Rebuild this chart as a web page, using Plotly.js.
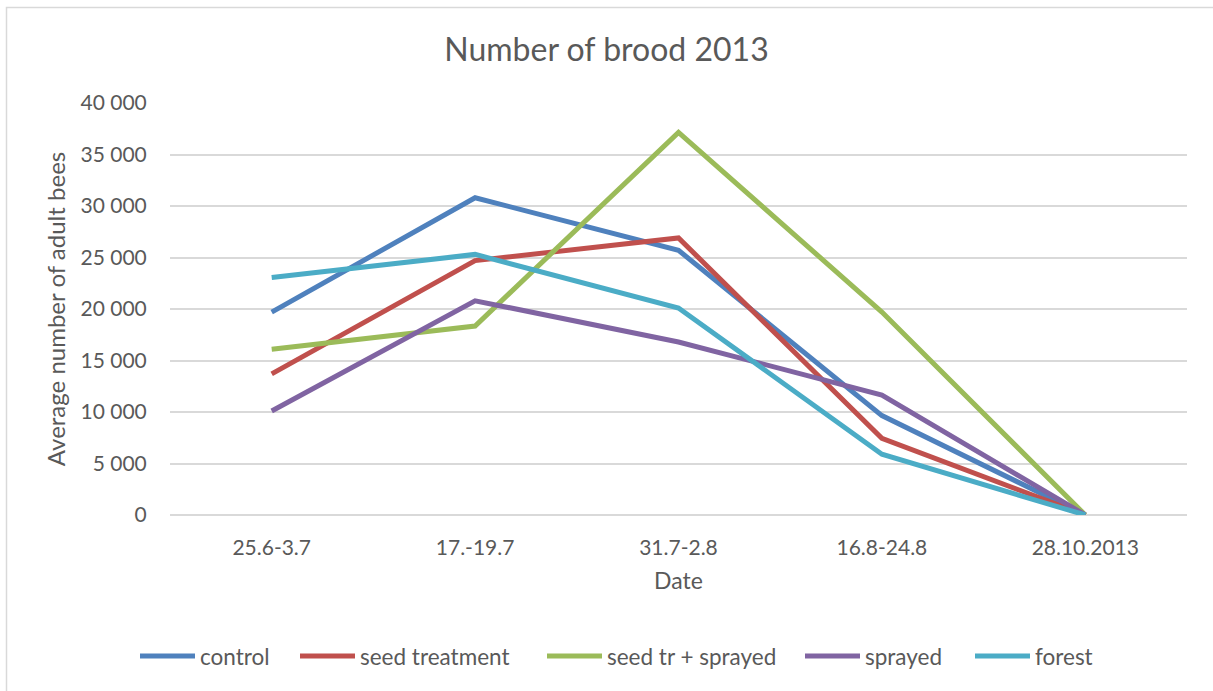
<!DOCTYPE html>
<html>
<head>
<meta charset="utf-8">
<script src="https://cdn.plot.ly/plotly-3.0.1.min.js"></script>
<style>
  html, body { margin: 0; padding: 0; background: #fff; }
  #chart { width: 1213px; height: 691px; }
</style>
</head>
<body>
<div id="chart"></div>
<script>
// Sampling dates (categories)
const dates = ["25.6-3.7", "17.-19.7", "31.7-2.8", "16.8-24.8", "28.10.2013"];

// Average number of adult bees per group
const control       = [19700, 30800, 25700, 9650, 0];
const seedTreatment = [13700, 24700, 26900, 7450, 0];
const seedTrSprayed = [16100, 18350, 37150, 19700, 0];
const sprayed       = [10100, 20800, 16800, 11650, 0];
const forest        = [23050, 25300, 20100, 5900, 0];

const seriesNames  = ["control", "seed treatment", "seed tr + sprayed", "sprayed", "forest"];
const seriesValues = [control, seedTreatment, seedTrSprayed, sprayed, forest];
const seriesColors = ["#4F81BD", "#C0504D", "#9BBB59", "#8064A2", "#4BACC6"];

const textColor = "#595959";
const fontFamily = "Lato, 'Open Sans', sans-serif";

// Plot-area geometry in pixels (used to convert legend placement to paper units)
const W = 1213, H = 691;
const M = { l: 170, r: 26, t: 103, b: 176 };
const PW = W - M.l - M.r, PH = H - M.t - M.b;
const px = x => (x - M.l) / PW;
const py = y => (H - M.b - y) / PH;

const traces = seriesNames.map((name, i) => ({
  type: "scatter",
  mode: "lines",
  name: name,
  x: dates,
  y: seriesValues[i],
  line: { color: seriesColors[i], width: 5, shape: "linear" },
  showlegend: false,
  hoverinfo: "x+y+name"
}));

// Legend row drawn below the axis: a short line swatch followed by the label
const legendStartPx = [140, 300, 547, 805, 975];
const legendY = py(656);
const legendShapes = seriesNames.map((name, i) => ({
  type: "line", xref: "paper", yref: "paper",
  x0: px(legendStartPx[i]), x1: px(legendStartPx[i] + 55),
  y0: legendY, y1: legendY,
  line: { color: seriesColors[i], width: 5 }
}));
const legendLabels = seriesNames.map((name, i) => ({
  xref: "paper", yref: "paper",
  x: px(legendStartPx[i] + 58), y: legendY,
  xanchor: "left", yanchor: "middle",
  text: name, showarrow: false,
  font: { family: fontFamily, size: 22.5, color: textColor }
}));

const layout = {
  width: W,
  height: H,
  paper_bgcolor: "#ffffff",
  plot_bgcolor: "#ffffff",
  separators: ". ",
  showlegend: false,
  font: { family: fontFamily, color: textColor, size: 21 },
  margin: M,
  title: {
    text: "Number of brood 2013",
    font: { family: fontFamily, size: 32, color: textColor },
    x: 0.5, xanchor: "center",
    y: 1 - 50 / H, yanchor: "middle"
  },
  xaxis: {
    type: "category",
    range: [-0.5, 4.5],
    showgrid: false,
    zeroline: false,
    showline: false,
    ticks: "outside",
    ticklen: 14,
    tickcolor: "rgba(0,0,0,0)",
    tickfont: { family: fontFamily, size: 21, color: textColor },
    title: {
      text: "Date",
      font: { family: fontFamily, size: 23, color: textColor },
      standoff: 14
    }
  },
  yaxis: {
    range: [0, 40000],
    dtick: 5000,
    tickformat: ",d",
    showgrid: true,
    gridcolor: "#D9D9D9",
    gridwidth: 1.5,
    zeroline: true,
    zerolinecolor: "#D9D9D9",
    zerolinewidth: 1.5,
    showline: false,
    ticks: "outside",
    ticklen: 18,
    tickcolor: "rgba(0,0,0,0)",
    tickfont: { family: fontFamily, size: 21, color: textColor },
    title: {
      text: "Average number of adult bees",
      font: { family: fontFamily, size: 24, color: textColor },
      standoff: 8
    }
  },
  annotations: legendLabels,
  shapes: [{
    // chart-area frame; only its top and left edges fall inside the page
    type: "rect", xref: "paper", yref: "paper",
    x0: px(6.5), x1: px(W + 10),
    y0: py(H + 10), y1: py(7.5),
    line: { color: "#D9D9D9", width: 1.5 },
    fillcolor: "rgba(0,0,0,0)",
    layer: "below"
  }].concat(legendShapes)
};

Plotly.newPlot("chart", traces, layout, { displayModeBar: false, responsive: false });
</script>
</body>
</html>
